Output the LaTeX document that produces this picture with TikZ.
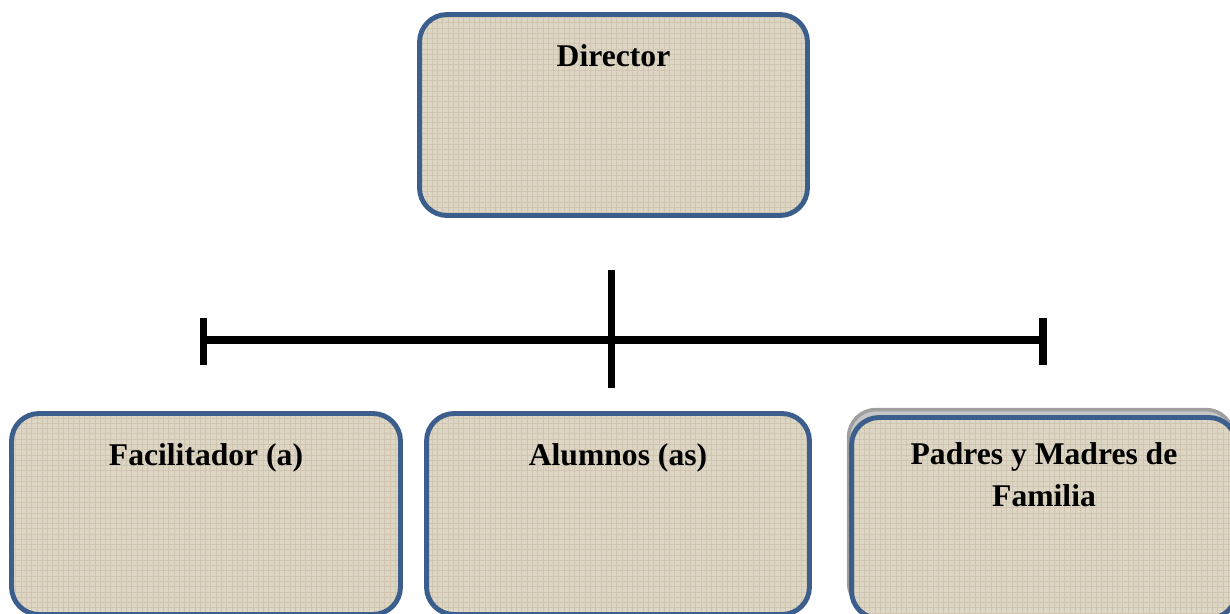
\documentclass[tikz,border=0pt]{standalone}
\usepackage{fontspec}
\setmainfont{Liberation Serif}
\definecolor{cargoborde}{HTML}{3B5E8C}
\definecolor{cargofondo}{HTML}{DED6C5}
\definecolor{cargotrama}{HTML}{CFC5B1}
\usetikzlibrary{positioning,patterns}

\begin{document}
\begin{tikzpicture}[x=0.02cm, y=-0.02cm,
      cargo/.style={preaction={fill=cargofondo},
                  preaction={pattern=grid, pattern color=cargotrama},
                  draw=cargoborde, line width=2.8pt,
                  rounded corners=0.55cm, inner sep=0pt, align=center,
                  minimum width=7.76cm, text height=1.04cm, text depth=2.98cm,
                  font=\fontsize{18}{23.7}\selectfont\bfseries},
      sombra/.style={draw=gray!75, fill=gray!45, line width=2pt,
                  rounded corners=0.55cm, minimum width=7.7cm, minimum height=4.02cm},
      linea/.style={line width=4.5pt, black}
  ]
    \useasboundingbox (0,0) rectangle (1230,613);
    % director
    \node[cargo] (dir) at (613.5,115) {Director};
    % lineas del organigrama
    \coordinate (ci) at (203.5,340); \coordinate (cd) at (1043,340);
    \coordinate (ca) at (611.5,270); \coordinate (cb) at (611.5,388);
    \draw[linea] (ci) -- (cd);
    \draw[linea] (ca) -- (cb);
    \draw[linea] ([yshift=0.44cm]ci) -- ([yshift=-0.5cm]ci);
    \draw[linea] ([yshift=0.44cm]cd) -- ([yshift=-0.5cm]cd);
    % cargos de abajo
    \node[cargo, minimum width=7.78cm] (fac) at (206,514) {Facilitador (a)};
    \node[cargo, minimum width=7.66cm] (alu) at (618,514) {Alumnos (as)};
    \node[sombra] (pms) at (1041,510) {};
    \node[cargo, minimum width=7.7cm, text height=1.78cm, text depth=2.24cm] (pad) at (1044,518) {Padres y Madres de\\ Familia};
\end{tikzpicture}
\end{document}
